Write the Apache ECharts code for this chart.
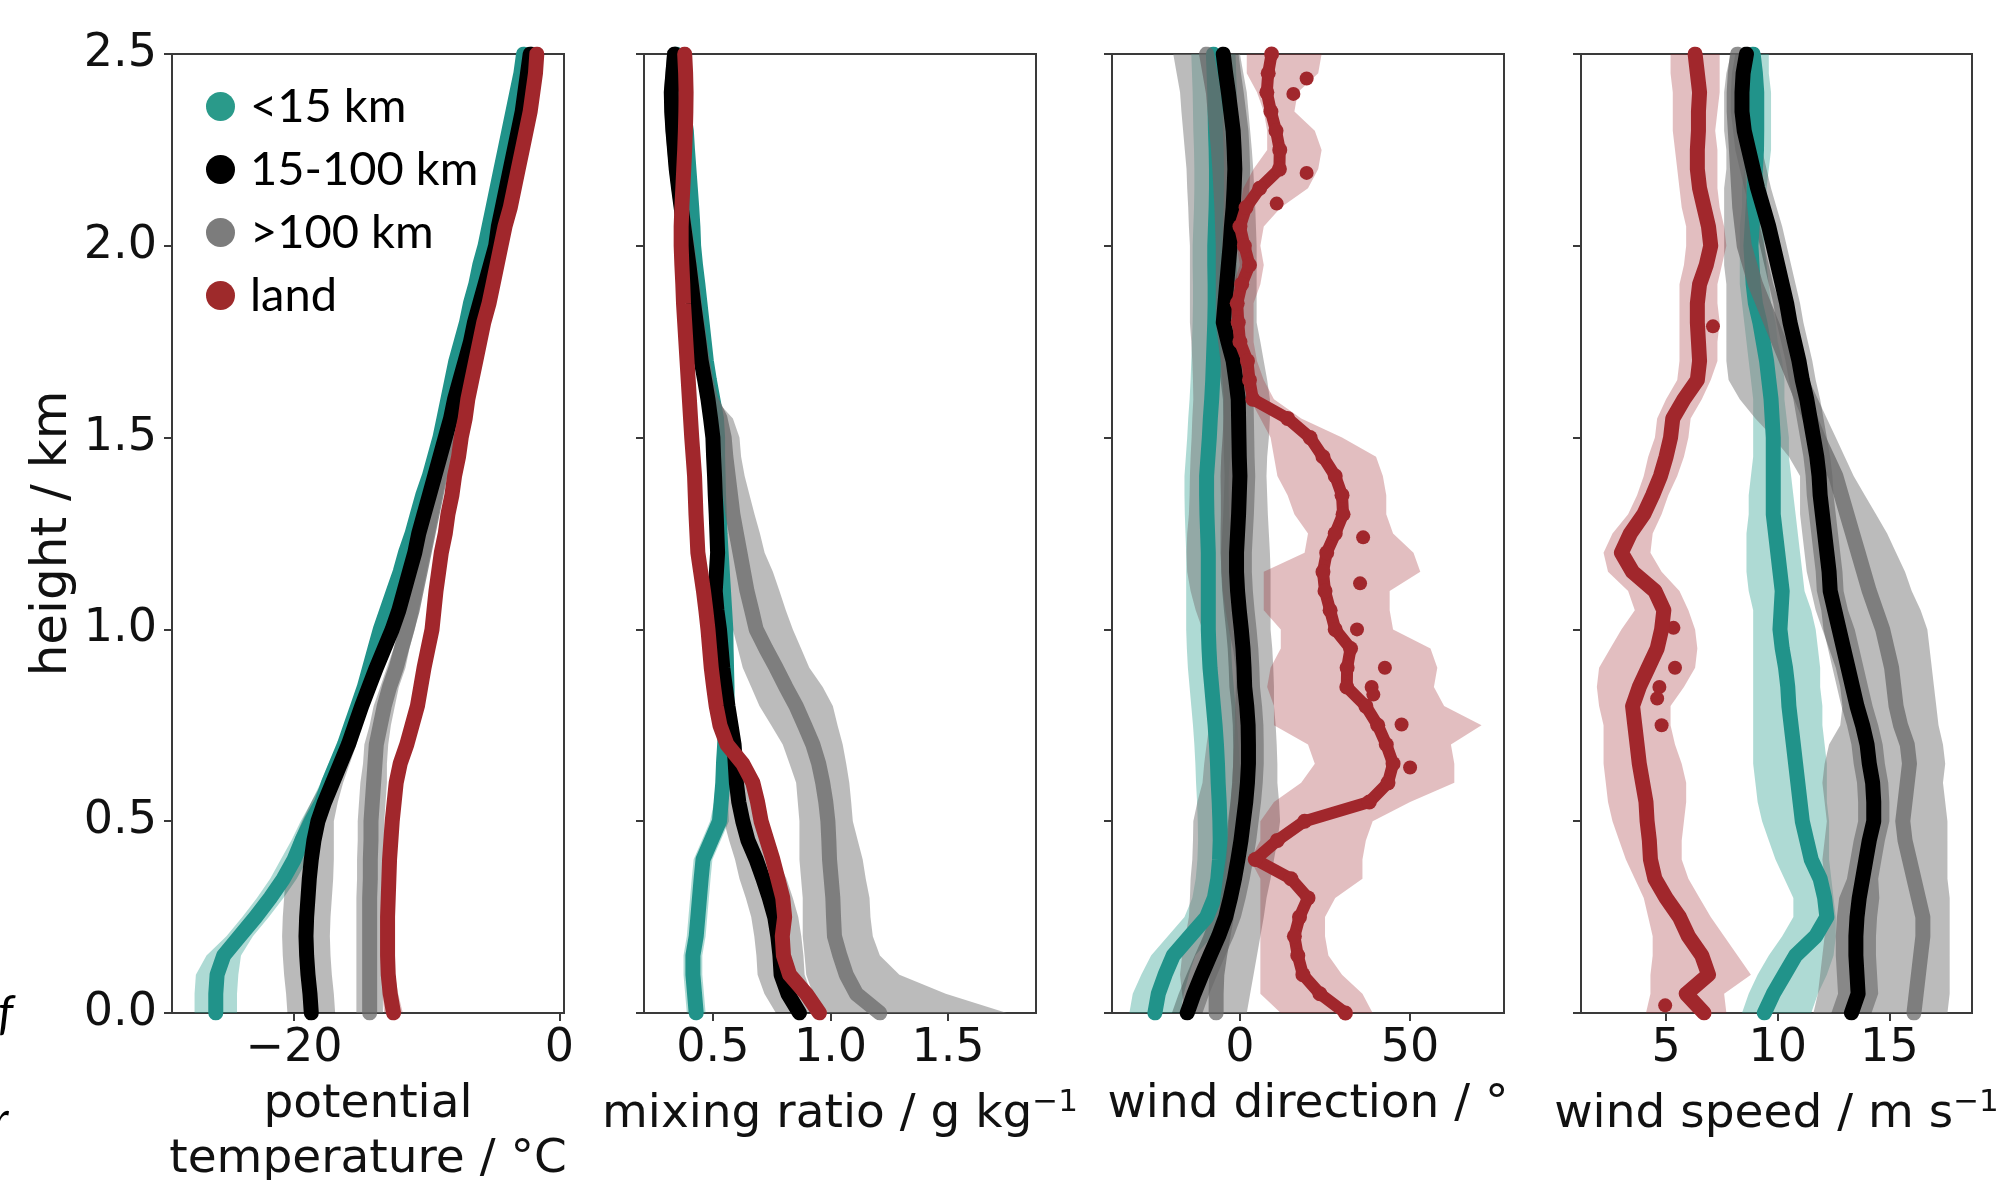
<!DOCTYPE html>
<html><head><meta charset="utf-8">
<script src="https://cdn.jsdelivr.net/npm/echarts@6/dist/echarts.min.js"></script>
<style>html,body{margin:0;padding:0;background:#fff}#c{width:1996px;height:1180px}</style>
</head><body><div id="c"></div>
<script>
// ---------------- DATA ----------------
const heights = [0.00,0.05,0.10,0.15,0.20,0.25,0.30,0.35,0.40,0.45,0.50,0.55,0.60,0.65,0.70,0.75,0.80,0.85,0.90,0.95,1.00,1.05,1.10,1.15,1.20,1.25,1.30,1.35,1.40,1.45,1.50,1.55,1.60,1.65,1.70,1.75,1.80,1.85,1.90,1.95,2.00,2.05,2.10,2.15,2.20,2.25,2.30,2.35,2.40,2.45,2.50];
const seriesNames = ['<15 km','15-100 km','>100 km','land'];
const thetaTicks = [-20,0];
const mixTicks = [0.5,1.0,1.5];
const dirTicks = [0,50];
const spdTicks = [5,10,15];

// potential temperature (°C)
const thetaTeal = [-25.9,-25.9,-25.8,-25.3,-24.1,-22.9,-21.8,-20.8,-20.0,-19.4,-18.7,-17.9,-17.4,-16.8,-16.2,-15.7,-15.2,-14.7,-14.3,-13.9,-13.5,-13.0,-12.5,-12.0,-11.6,-11.1,-10.7,-10.3,-9.8,-9.4,-9.0,-8.7,-8.4,-8.1,-7.8,-7.4,-7.0,-6.7,-6.3,-6.0,-5.6,-5.3,-5.0,-4.7,-4.4,-4.1,-3.8,-3.5,-3.2,-2.9,-2.7];
const thetaTealSd = [1.6,1.6,1.6,1.3,1.0,1.0,1.0,1.0,1.0,0.8,0.8,0.8,0.6,0.6,0.55,0.55,0.5,0.5,0.5,0.5,0.5,0.4,0.4,0.4,0.4,0.4,0.4,0.4,0.4,0.4,0.4,0.4,0.4,0.4,0.4,0.4,0.4,0.4,0.4,0.4,0.4,0.4,0.4,0.4,0.4,0.4,0.4,0.4,0.4,0.4,0.4];
const thetaBlack = [-18.7,-18.8,-18.95,-19.05,-19.1,-19.05,-18.95,-18.85,-18.7,-18.5,-18.2,-17.7,-17.1,-16.5,-15.9,-15.4,-14.9,-14.35,-13.8,-13.2,-12.6,-12.1,-11.7,-11.3,-10.9,-10.6,-10.2,-9.8,-9.4,-9.0,-8.6,-8.2,-7.9,-7.5,-7.1,-6.7,-6.4,-6.0,-5.6,-5.2,-4.8,-4.6,-4.3,-4.0,-3.7,-3.4,-3.1,-2.8,-2.6,-2.4,-2.2];
const thetaBlackSd = [1.8,1.8,1.8,1.8,1.8,1.8,1.8,1.8,1.7,1.5,1.2,1.0,0.8,0.7,0.6,0.5,0.5,0.5,0.5,0.5,0.5,0.4,0.4,0.4,0.4,0.4,0.4,0.4,0.4,0.4,0.4,0.4,0.4,0.4,0.4,0.4,0.4,0.4,0.4,0.4,0.4,0.4,0.4,0.4,0.4,0.4,0.4,0.4,0.4,0.4,0.4];
const thetaGrey = [-14.3,-14.3,-14.3,-14.3,-14.3,-14.3,-14.3,-14.25,-14.25,-14.2,-14.2,-14.1,-14.0,-13.9,-13.8,-13.5,-13.2,-12.8,-12.3,-11.9,-11.5,-11.1,-10.8,-10.5,-10.2,-9.9,-9.6,-9.3,-9.0,-8.7,-8.4,-8.1,-7.8,-7.4,-7.0,-6.6,-6.3,-5.9,-5.5,-5.1,-4.7,-4.5,-4.2,-3.9,-3.6,-3.3,-3.0,-2.7,-2.5,-2.3,-2.1];
const thetaGreySd = [1.0,1.0,1.0,1.0,1.0,1.0,1.0,1.0,1.0,1.0,1.0,1.0,1.0,0.9,0.9,0.8,0.8,0.7,0.7,0.6,0.6,0.5,0.5,0.5,0.5,0.5,0.5,0.5,0.5,0.5,0.5,0.4,0.4,0.4,0.4,0.4,0.4,0.4,0.4,0.4,0.4,0.4,0.4,0.4,0.4,0.4,0.4,0.4,0.4,0.4,0.4];
const thetaRed = [-12.5,-12.75,-12.9,-12.95,-12.95,-12.95,-12.9,-12.85,-12.8,-12.7,-12.6,-12.45,-12.3,-12.0,-11.5,-11.1,-10.7,-10.45,-10.2,-9.9,-9.6,-9.45,-9.3,-9.1,-8.9,-8.6,-8.4,-8.1,-7.9,-7.6,-7.4,-7.1,-6.9,-6.6,-6.3,-6.0,-5.7,-5.3,-5.0,-4.7,-4.4,-4.1,-3.7,-3.4,-3.1,-2.8,-2.5,-2.2,-2.0,-1.8,-1.7];
const thetaRedSd = [0.7,0.6,0.5,0.5,0.5,0.5,0.5,0.5,0.5,0.5,0.5,0.5,0.5,0.5,0.5,0.5,0.5,0.5,0.5,0.5,0.5,0.5,0.5,0.5,0.5,0.5,0.5,0.5,0.5,0.5,0.5,0.5,0.5,0.5,0.5,0.5,0.5,0.5,0.5,0.5,0.5,0.5,0.5,0.5,0.5,0.5,0.5,0.5,0.5,0.5,0.5];

// mixing ratio (g/kg)
const mixTeal = [0.429,0.422,0.415,0.415,0.429,0.436,0.443,0.45,0.458,0.493,0.528,0.535,0.542,0.545,0.55,0.555,0.56,0.56,0.558,0.556,0.555,0.55,0.545,0.54,0.535,0.53,0.527,0.524,0.522,0.52,0.52,0.515,0.5,0.485,0.472,0.463,0.454,0.445,0.436,0.426,0.418,0.415,0.41,0.404,0.398,0.392,0.387,0.375,0.36,0.35,0.344];
const mixTealSd = [0.04,0.04,0.04,0.04,0.04,0.04,0.04,0.04,0.04,0.04,0.04,0.03,0.03,0.03,0.03,0.03,0.03,0.03,0.03,0.03,0.03,0.025,0.025,0.025,0.025,0.025,0.025,0.025,0.025,0.025,0.025,0.025,0.025,0.025,0.025,0.025,0.025,0.025,0.025,0.025,0.025,0.025,0.025,0.025,0.025,0.025,0.025,0.025,0.025,0.025,0.025];
const mixBlack = [0.868,0.819,0.79,0.785,0.776,0.763,0.74,0.713,0.684,0.649,0.627,0.61,0.6,0.595,0.59,0.577,0.564,0.553,0.542,0.535,0.528,0.517,0.51,0.515,0.52,0.517,0.514,0.51,0.507,0.503,0.5,0.49,0.479,0.465,0.45,0.44,0.429,0.418,0.408,0.398,0.387,0.376,0.365,0.354,0.344,0.337,0.33,0.325,0.323,0.33,0.337];
const mixBlackSd = [0.1,0.1,0.1,0.1,0.1,0.1,0.1,0.1,0.09,0.08,0.08,0.06,0.05,0.04,0.03,0.025,0.02,0.02,0.02,0.02,0.02,0.02,0.02,0.02,0.02,0.02,0.02,0.02,0.02,0.02,0.02,0.02,0.02,0.02,0.02,0.02,0.02,0.02,0.02,0.02,0.02,0.02,0.02,0.02,0.02,0.02,0.02,0.02,0.02,0.02,0.02];
const mixGrey = [1.21,1.11,1.067,1.04,1.017,1.013,1.01,1.003,0.996,0.993,0.989,0.98,0.967,0.95,0.925,0.89,0.854,0.81,0.769,0.725,0.684,0.665,0.645,0.63,0.615,0.6,0.585,0.575,0.565,0.555,0.548,0.53,0.49,0.47,0.455,0.443,0.432,0.421,0.411,0.4,0.39,0.378,0.367,0.356,0.346,0.338,0.331,0.326,0.324,0.33,0.337];
const mixGreyLo = [0.95,0.925,0.897,0.89,0.882,0.882,0.882,0.875,0.868,0.868,0.868,0.861,0.854,0.826,0.797,0.748,0.698,0.663,0.627,0.606,0.585,0.57,0.564,0.557,0.55,0.543,0.535,0.528,0.528,0.52,0.514,0.507,0.47,0.45,0.435,0.423,0.412,0.401,0.391,0.38,0.37,0.358,0.347,0.336,0.326,0.318,0.311,0.306,0.304,0.31,0.317];
const mixGreyHi = [1.75,1.49,1.293,1.21,1.18,1.17,1.166,1.15,1.137,1.116,1.095,1.088,1.08,1.067,1.052,1.03,1.01,0.967,0.91,0.875,0.84,0.81,0.783,0.755,0.72,0.70,0.677,0.656,0.635,0.62,0.613,0.585,0.51,0.49,0.475,0.463,0.452,0.441,0.431,0.42,0.41,0.398,0.387,0.376,0.366,0.358,0.351,0.346,0.344,0.35,0.357];
const mixRed = [0.953,0.897,0.826,0.80,0.795,0.805,0.797,0.776,0.755,0.73,0.705,0.69,0.67,0.627,0.56,0.53,0.514,0.503,0.493,0.486,0.479,0.47,0.46,0.448,0.436,0.432,0.428,0.425,0.422,0.416,0.41,0.405,0.40,0.395,0.39,0.385,0.38,0.375,0.372,0.368,0.365,0.365,0.368,0.372,0.376,0.38,0.383,0.385,0.386,0.384,0.38];
const mixRedSd = [0.03,0.03,0.03,0.03,0.03,0.03,0.03,0.03,0.03,0.03,0.03,0.025,0.025,0.025,0.025,0.025,0.025,0.025,0.025,0.025,0.025,0.025,0.025,0.025,0.025,0.025,0.025,0.025,0.025,0.025,0.025,0.025,0.025,0.025,0.025,0.025,0.025,0.025,0.025,0.025,0.025,0.025,0.025,0.025,0.025,0.025,0.025,0.025,0.025,0.025,0.025];

// wind direction (°)
const dirTeal = [-25,-24,-22,-19.6,-14.7,-9.8,-7.5,-6.5,-6.0,-5.8,-5.9,-6.1,-6.4,-6.6,-6.9,-7.3,-7.8,-8.3,-8.8,-9.1,-9.3,-9.3,-9.3,-9.3,-9.3,-9.5,-9.7,-9.8,-9.8,-9.4,-9.0,-8.7,-8.3,-8.0,-7.8,-7.6,-7.4,-7.3,-7.3,-7.4,-7.4,-7.2,-7.0,-6.9,-6.9,-7.0,-7.2,-7.3,-7.4,-7.6,-7.8];
const dirTealSd = [7.5,7.5,7,6.5,6.5,6.5,6.5,6.5,6.5,6.5,6.5,6.5,6.5,6.5,6.5,6.5,6.5,6.5,6.5,6.5,6.5,6.5,6.5,6.5,6.5,6.5,6.5,6.5,6.5,6.5,6.5,6.5,6.5,6.5,6.5,6.5,6.5,6.5,6.5,6.5,6.5,6.5,6.5,6.5,6.5,6.5,6.5,6.5,6.5,6.5,6.5];
const dirBlack = [-15.5,-13.5,-11.2,-8.8,-6.3,-4.2,-2.8,-1.6,-0.6,0.3,1.0,1.7,2.2,2.5,2.5,2.4,2.0,1.4,1.2,0.9,0.4,-0.2,-0.7,-1.0,-1.0,-0.7,-0.4,-0.2,0,-0.2,-0.3,-0.4,-0.5,-1.2,-2.0,-3.5,-4.9,-4.4,-3.9,-3.4,-2.9,-2.5,-2.0,-1.7,-1.5,-1.7,-2.0,-2.7,-3.4,-4.2,-4.9];
const dirBlackSd = [4.5,4.5,4.5,4.5,4.5,4.5,4.5,4.5,4.5,4.5,4.5,4.5,4.5,4.5,4.5,4.5,4.5,4.5,4.5,4.5,4.5,4.5,4.5,4.5,4.5,4.5,4.5,4.5,4.5,4.5,4.5,4.5,4.5,4.5,4.5,4.5,4.5,4.5,4.5,4.5,4.5,4.5,4.5,4.5,4.5,4.5,4.5,4.5,4.5,4.5,4.5];
const dirGrey = [-7,-7,-6.8,-6,-5,-4,-3.5,-2.8,-2,-1.4,-1,-0.5,0,0.2,0.5,0.7,0.8,1,1,0.2,-1,-2,-2.8,-3.2,-3.5,-3.5,-3.4,-3.4,-3.5,-3.3,-2.9,-2.6,-2.5,-2.9,-3.5,-4.2,-4.9,-4.9,-4.9,-4.9,-4.9,-5.1,-5.3,-5.6,-5.9,-6.3,-6.8,-7.3,-7.8,-8.8,-9.8];
const dirGreyLo = [-16,-17,-17.6,-17,-16,-15,-14.7,-14.5,-14,-13.8,-13.7,-12.5,-11,-10.5,-9.8,-9,-8.5,-8,-7.8,-9,-11,-13,-14.5,-15.5,-15.7,-15.5,-15,-14.8,-14.7,-14.5,-14.2,-14,-13.7,-13.8,-14,-14.3,-14.7,-14.7,-14.7,-14.7,-14.7,-15,-15.2,-15.5,-15.7,-16.2,-16.7,-17.2,-17.6,-18.6,-19.6];
const dirGreyHi = [2,3,4,5,6,7,7.8,9,10,11,11.8,11.5,11,11,10.8,10.5,10,10,9.8,9.5,9,9,9,9,8.8,8.5,8.2,8,7.8,8,8.5,8.8,8.8,8,7,6,4.9,4.9,4.9,4.9,4.9,4.7,4.5,4.2,3.9,3.5,3,2.5,2,1,0];
const dirRed = [31,23.5,18.5,17,16,17.5,20,15,4.5,11,19,38,43.5,45,43,40.5,37,31.4,31.5,32.5,28,26.5,25,24.4,25.5,28,30.3,30,28,24.4,20.6,14,3.8,2.8,2.2,0,-0.5,-0.8,0.5,2.8,1.3,0,1.8,5.8,11.6,11.7,10.6,9.1,7.9,8.3,9.3];
const dirRedLo = [12,6,6,6,6,6,6,6,3,6,6,10,18,22,20,10,10,8,9,12,12,7,7,7,19,20,16,14,11,10,9,6,3,0,-1,-2,-3,-3,-2,0,-1,-1,0,1,4,8,8,7,5,2,2];
const dirRedHi = [39,36,30,26,25,25,28,36,36,37,39,50,63,63,62,71,60,57,58,56,45,44,44,53,51,45,43,43,42,40,30,18,10,7,5,4,4,4,6,7,6,7,12,20,23,24,22,16,17,23,24];
const dirRedOutX = [19.6,15.7,19.6,10.8,36.2,35.3,34.4,42.6,38.7,39.2,47.5,50.0];
const dirRedOutH = [2.436,2.396,2.19,2.11,1.24,1.12,1.0,0.90,0.85,0.83,0.752,0.64];

// wind speed (m/s)
const spdTeal = [9.4,9.8,10.3,10.8,11.7,12.2,12.1,11.9,11.5,11.3,11.1,11.0,10.9,10.8,10.7,10.6,10.5,10.45,10.35,10.2,10.1,10.15,10.2,10.1,10.0,9.9,9.8,9.8,9.8,9.8,9.8,9.75,9.7,9.6,9.5,9.35,9.2,9.0,8.9,8.85,8.8,8.85,8.9,8.95,9.0,9.05,9.06,9.06,9.06,9.0,8.9];
const spdTealLo = [8.4,8.7,9.1,9.6,10.2,10.7,10.7,10.3,9.9,9.6,9.3,9.1,9.0,8.9,8.9,8.9,8.9,8.9,8.9,8.9,8.9,8.9,8.7,8.6,8.6,8.6,8.7,8.7,8.8,8.9,8.9,8.9,8.9,8.8,8.7,8.6,8.5,8.4,8.3,8.3,8.3,8.3,8.4,8.4,8.5,8.5,8.5,8.5,8.5,8.4,8.3];
const spdTealHi = [11.5,11.8,12.2,12.5,12.6,12.6,12.5,12.4,12.3,12.3,12.3,12.2,12.2,12.2,12.1,12.0,12.0,11.9,11.9,11.8,11.7,11.5,11.2,11.1,11.0,10.9,10.8,10.7,10.6,10.5,10.5,10.4,10.3,10.3,10.2,10.0,9.9,9.7,9.6,9.5,9.4,9.4,9.5,9.5,9.6,9.7,9.7,9.7,9.7,9.6,9.6];
const spdBlack = [13.3,13.6,13.55,13.5,13.5,13.55,13.65,13.8,13.95,14.1,14.3,14.3,14.25,14.1,14.0,13.8,13.55,13.35,13.15,12.95,12.75,12.55,12.35,12.3,12.2,12.1,12.0,11.9,11.85,11.75,11.6,11.45,11.3,11.1,10.95,10.75,10.55,10.4,10.2,10.0,9.8,9.6,9.35,9.1,8.9,8.7,8.5,8.4,8.4,8.45,8.6];
const spdBlackSd = [0.9,0.9,0.9,0.9,0.9,0.9,0.9,0.7,0.7,0.7,0.7,0.7,0.7,0.7,0.7,0.7,0.7,0.7,0.7,0.7,0.7,0.6,0.6,0.6,0.6,0.6,0.6,0.6,0.6,0.6,0.6,0.6,0.6,0.6,0.6,0.6,0.6,0.6,0.6,0.6,0.6,0.6,0.6,0.6,0.6,0.6,0.5,0.5,0.5,0.5,0.5];
const spdGrey = [16.1,16.2,16.3,16.4,16.5,16.5,16.3,16.1,15.9,15.7,15.6,15.7,15.8,15.9,15.8,15.5,15.3,15.2,15.1,14.9,14.7,14.4,14.1,13.85,13.6,13.35,13.1,12.85,12.6,12.2,11.8,11.45,11.1,10.75,10.4,10.05,9.7,9.35,9.0,8.75,8.5,8.4,8.3,8.25,8.2,8.15,8.1,8.05,8.05,8.1,8.2];
const spdGreyLo = [11.6,11.8,11.9,12.0,12.1,12.2,12.2,12.1,12.0,12.1,12.2,12.1,12.0,12.1,12.3,12.8,12.9,12.8,12.6,12.3,12.0,11.7,11.5,11.3,11.2,11.1,11.0,11.0,11.0,10.5,9.8,9.0,8.3,7.8,7.7,7.7,7.7,7.7,7.7,7.6,7.6,7.6,7.6,7.6,7.7,7.7,7.6,7.6,7.6,7.7,7.9];
const spdGreyHi = [17.6,17.7,17.7,17.7,17.7,17.7,17.7,17.6,17.6,17.6,17.6,17.5,17.4,17.5,17.4,17.2,17.1,17.0,16.9,16.8,16.7,16.4,16.0,15.7,15.3,14.9,14.4,13.9,13.4,13.0,12.6,12.2,11.8,11.4,11.0,10.7,10.4,10.1,9.8,9.6,9.4,9.2,9.1,9.0,9.0,8.9,8.8,8.7,8.6,8.6,8.6];
const spdRed = [6.7,5.9,6.9,6.6,6.0,5.6,5.0,4.5,4.3,4.25,4.15,4.1,3.95,3.8,3.7,3.6,3.5,3.8,4.2,4.6,4.8,4.9,4.5,3.5,3.0,3.4,4.0,4.4,4.75,5.0,5.2,5.3,5.8,6.4,6.5,6.45,6.4,6.4,6.5,6.8,7.0,6.9,6.7,6.5,6.4,6.4,6.45,6.45,6.5,6.4,6.3];
const spdRedLo = [4.1,4.3,4.3,4.4,4.4,4.2,4.0,3.6,3.2,2.9,2.6,2.4,2.3,2.2,2.2,2.2,2.0,1.9,2.0,2.5,3.0,3.6,3.3,2.4,2.2,2.6,3.3,3.7,4.0,4.2,4.5,4.6,5.0,5.5,5.6,5.6,5.6,5.6,5.6,5.8,5.9,5.9,5.7,5.6,5.5,5.4,5.3,5.3,5.3,5.2,5.2];
const spdRedHi = [7.7,7.6,8.8,8.2,7.6,7.0,6.5,6.0,5.7,5.7,5.8,5.9,5.9,5.7,5.4,5.2,5.2,5.8,6.3,6.4,6.3,6.0,5.6,4.8,4.3,4.4,4.8,5.1,5.5,5.8,6.0,6.1,6.6,7.0,7.3,7.3,7.4,7.3,7.3,7.5,7.7,7.6,7.4,7.3,7.3,7.3,7.2,7.3,7.4,7.4,7.4];
const spdRedOutX = [7.1,5.33,5.4,4.7,4.6,4.8,4.96];
const spdRedOutH = [1.79,1.004,0.90,0.85,0.82,0.75,0.02];

// ---------------- STYLE ----------------
const FONT = 'DejaVu Sans';
const FRAME = '#3a3a3a';
const COL = {
  tealLine:'#21938a', tealBand:'rgba(42,157,143,0.38)',
  blackLine:'#000000', blackBand:'rgba(0,0,0,0.27)',
  greyLine:'rgba(105,105,105,0.75)', greyBand:'rgba(120,120,120,0.5)',
  redLine:'#a1272c', redBand:'rgba(158,40,45,0.3)'
};
const grids = [
  {left:172, top:54, width:392, height:959},
  {left:644, top:54, width:392, height:959},
  {left:1112, top:54, width:392, height:959},
  {left:1581, top:54, width:391, height:959}
].map(g => Object.assign({show:true, borderColor:FRAME, borderWidth:2, backgroundColor:'transparent', containLabel:false, outerBoundsMode:'none'}, g));

function minusFmt(v){ return v < 0 ? '\u2212' + Math.abs(v) : String(v); }

const nameStyle = {fontFamily:FONT, fontSize:47, color:'#111', lineHeight:55,
  rich:{sup:{fontFamily:FONT, fontSize:31, color:'#111', lineHeight:31, verticalAlign:'top'}}};

function xAx(gi, min, max, ticks, name, gap, fmt){
  return {type:'value', gridIndex:gi, min:min, max:max,
    axisLine:{show:true, onZero:false, lineStyle:{color:FRAME, width:2}},
    axisTick:{show:true, length:8, inside:false, lineStyle:{color:FRAME, width:2}, customValues:ticks},
    axisLabel:{show:true, customValues:ticks, margin:13, fontFamily:FONT, fontSize:46, color:'#111', lineHeight:46, formatter:fmt},
    splitLine:{show:false},
    name:name, nameLocation:'middle', nameGap:gap, nameTextStyle:nameStyle};
}
function yAx(gi){
  const first = gi === 0;
  return {type:'value', gridIndex:gi, min:0, max:2.5, interval:0.5,
    axisLine:{show:true, onZero:false, lineStyle:{color:FRAME, width:2}},
    axisTick:{show:true, length:8, inside:false, lineStyle:{color:FRAME, width:2}},
    axisLabel:{show:first, margin:15, fontFamily:FONT, fontSize:46, color:'#111', formatter:v => v.toFixed(1)},
    splitLine:{show:false},
    name: first ? 'height / km' : '', nameLocation:'middle', nameGap:94, nameRotate:90,
    nameTextStyle:{fontFamily:FONT, fontSize:50, color:'#111'}};
}

function band(gi, mean, sd, lo, hi, color){
  const L = lo || mean.map((m,i)=>m - sd[i]);
  const H = hi || mean.map((m,i)=>m + sd[i]);
  return {type:'custom', xAxisIndex:gi, yAxisIndex:gi, clip:true, silent:true, animation:false,
    data:[[L[0], heights[0]]], encode:{x:0, y:1},
    renderItem:function(params, api){
      const pts = [];
      for (let i = 0; i < heights.length; i++) pts.push(api.coord([L[i], heights[i]]));
      for (let i = heights.length - 1; i >= 0; i--) pts.push(api.coord([H[i], heights[i]]));
      return {type:'polygon', shape:{points:pts}, style:{fill:color}};
    }};
}
function line(gi, xs, name, color, width, extra){
  return Object.assign({type:'line', name:name, xAxisIndex:gi, yAxisIndex:gi,
    data: xs.map((v,i)=>[v, heights[i]]), showSymbol:false, symbol:'none', silent:true, animation:false,
    lineStyle:{color:color, width:width, cap:'round', join:'round'}, itemStyle:{color:color}}, extra || {});
}
function dots(gi, xs, hs, color, size){
  return {type:'scatter', xAxisIndex:gi, yAxisIndex:gi, data: xs.map((v,i)=>[v, hs[i]]),
    symbol:'circle', symbolSize:size, itemStyle:{color:color, opacity:1}, silent:true, animation:false, clip:true};
}

const panels = [
  {teal:[thetaTeal,thetaTealSd], black:[thetaBlack,thetaBlackSd], grey:[thetaGrey,thetaGreySd], red:[thetaRed,thetaRedSd]},
  {teal:[mixTeal,mixTealSd], black:[mixBlack,mixBlackSd], grey:[mixGrey,null,mixGreyLo,mixGreyHi], red:[mixRed,mixRedSd]},
  {teal:[dirTeal,dirTealSd], black:[dirBlack,dirBlackSd], grey:[dirGrey,null,dirGreyLo,dirGreyHi], red:[dirRed,null,dirRedLo,dirRedHi]},
  {teal:[spdTeal,null,spdTealLo,spdTealHi], black:[spdBlack,spdBlackSd], grey:[spdGrey,null,spdGreyLo,spdGreyHi], red:[spdRed,null,spdRedLo,spdRedHi]}
];

const series = [];
panels.forEach((p, gi) => {
  series.push(band(gi, p.teal[0], p.teal[1], p.teal[2], p.teal[3], COL.tealBand));
  series.push(line(gi, p.teal[0], seriesNames[0], COL.tealLine, 15));
  series.push(band(gi, p.grey[0], p.grey[1], p.grey[2], p.grey[3], COL.greyBand));
  series.push(line(gi, p.grey[0], seriesNames[2], COL.greyLine, 15));
  series.push(band(gi, p.black[0], p.black[1], p.black[2], p.black[3], COL.blackBand));
  series.push(line(gi, p.black[0], seriesNames[1], COL.blackLine, 15));
  series.push(band(gi, p.red[0], p.red[1], p.red[2], p.red[3], COL.redBand));
  if (gi === 2) {
    series.push(line(gi, p.red[0], seriesNames[3], COL.redLine, 12, {showSymbol:true, symbol:'circle', symbolSize:15}));
    series.push(dots(gi, dirRedOutX, dirRedOutH, COL.redLine, 14));
  } else {
    series.push(line(gi, p.red[0], seriesNames[3], COL.redLine, 15));
    if (gi === 3) series.push(dots(gi, spdRedOutX, spdRedOutH, COL.redLine, 14));
  }
});

const option = {
  backgroundColor:'#ffffff',
  animation:false,
  grid: grids,
  xAxis: [
    xAx(0, -29.2, 0.35, thetaTicks, 'potential\ntemperature / \u00b0C', 52, minusFmt),
    xAx(1, 0.207, 1.874, mixTicks, 'mixing ratio / g kg{sup|\u22121}', 74, v => v.toFixed(1)),
    xAx(2, -37.6, 77.6, dirTicks, 'wind direction / \u00b0', 63, minusFmt),
    xAx(3, 1.19, 18.7, spdTicks, 'wind speed / m s{sup|\u22121}', 74, minusFmt)
  ],
  yAxis: [yAx(0), yAx(1), yAx(2), yAx(3)],
  legend: {
    show:true, left:201, top:78, orient:'vertical', icon:'circle',
    itemWidth:29, itemHeight:29, itemGap:16,
    textStyle:{fontFamily:'Lato', fontSize:47, color:'#000', lineHeight:29, padding:[0,0,0,10]},
    itemStyle:{borderWidth:0},
    selectedMode:false,
    data:[
      {name:seriesNames[0], itemStyle:{color:'#2a9a8a'}},
      {name:seriesNames[1], itemStyle:{color:'#000000'}},
      {name:seriesNames[2], itemStyle:{color:'#7c7c7c'}},
      {name:seriesNames[3], itemStyle:{color:'#9e2a2b'}}
    ]
  },
  graphic: [
    {type:'text', x:-2, y:991, style:{text:'f', font:'italic 48px Lato', fill:'#000'}},
    {type:'text', x:-8, y:1097, style:{text:'r', font:'italic 48px Lato', fill:'#000'}}
  ],
  series: series
};

const chart = echarts.init(document.getElementById('c'), null, {renderer:'canvas'});
chart.setOption(option);
</script>
</body></html>
